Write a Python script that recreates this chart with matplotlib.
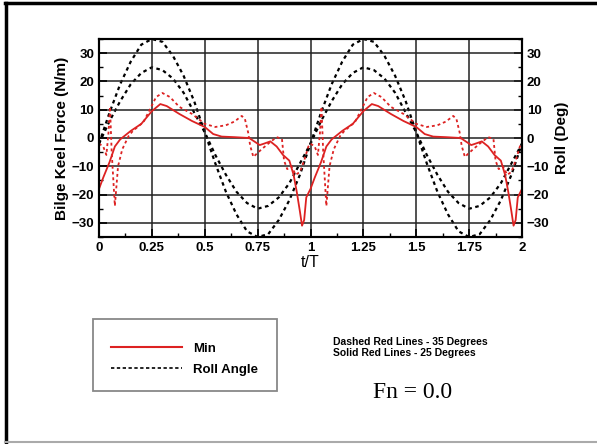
import numpy as np
import matplotlib
matplotlib.use("Agg")
import matplotlib.pyplot as plt
from matplotlib.lines import Line2D
from matplotlib.patches import Rectangle
from matplotlib.ticker import MultipleLocator

plt.rcParams['font.family'] = ['Liberation Sans', 'DejaVu Sans']

# bilge keel force, solid red (25 deg roll)
t_solid = [0, 0.02, 0.05, 0.075, 0.1, 0.12, 0.15, 0.2, 0.25, 0.29, 0.32, 0.38, 0.44,
           0.5, 0.54, 0.58, 0.64, 0.71, 0.76, 0.78, 0.81, 0.84, 0.87, 0.9, 0.92,
           0.935, 0.95, 0.96, 0.97, 0.98,
           1.0, 1.02, 1.05, 1.075, 1.1, 1.12, 1.15, 1.2, 1.25, 1.29, 1.32, 1.38, 1.44,
           1.5, 1.54, 1.58, 1.64, 1.71, 1.76, 1.78, 1.81, 1.84, 1.87, 1.9, 1.92,
           1.935, 1.95, 1.96, 1.97, 1.98, 2.0]
f_solid = [-18, -14, -8.5, -3, -0.5, 0.7, 2.5, 5, 9.5, 12, 11.3, 8.5, 6,
           3.9, 1.4, 0.5, 0.3, 0, -2.5, -2, -1.2, -3, -6, -8, -13,
           -19, -26, -31, -29, -21,
           -18, -14, -8.5, -3, -0.5, 0.7, 2.5, 5, 9.5, 12, 11.3, 8.5, 6,
           3.9, 1.4, 0.5, 0.3, 0, -2.5, -2, -1.2, -3, -6, -8, -13,
           -19, -26, -31, -29, -21, -18]

# bilge keel force, dashed red (35 deg roll)
t_dash = [0, 0.02, 0.035, 0.045, 0.052, 0.06, 0.075, 0.09, 0.11, 0.14, 0.16, 0.21,
          0.24, 0.27, 0.3, 0.335, 0.38, 0.44, 0.5, 0.55, 0.6, 0.64, 0.675, 0.69,
          0.705, 0.715, 0.73, 0.745, 0.77, 0.81, 0.84, 0.865, 0.875, 0.89, 0.91,
          0.93, 0.95, 0.97, 0.99,
          1.0, 1.02, 1.035, 1.045, 1.052, 1.06, 1.075, 1.09, 1.11, 1.14, 1.16, 1.21,
          1.24, 1.27, 1.3, 1.335, 1.38, 1.44, 1.5, 1.55, 1.6, 1.64, 1.675, 1.69,
          1.705, 1.715, 1.73, 1.745, 1.77, 1.81, 1.84, 1.865, 1.875, 1.89, 1.91,
          1.93, 1.95, 1.97, 1.99, 2.0]
f_dash = [-2, -3, -6, 2, 11, -5, -24, -10, -4, 0.7, 2.5, 5.6,
          10, 14.5, 15.9, 14.5, 11, 8.5, 5, 3.9, 4.5, 5.8, 7.8, 6.7,
          2, -2.8, -6.7, -5.6, -3.9, -1.4, 0.3, -0.3, -8, -11, -10,
          -13, -12, -8, -3,
          -2, -3, -6, 2, 11, -5, -24, -10, -4, 0.7, 2.5, 5.6,
          10, 14.5, 15.9, 14.5, 11, 8.5, 5, 3.9, 4.5, 5.8, 7.8, 6.7,
          2, -2.8, -6.7, -5.6, -3.9, -1.4, 0.3, -0.3, -8, -11, -10,
          -13, -12, -8, -3, -2]

# roll angle (deg)
t_roll = [0, 0.05, 0.1, 0.15, 0.2, 0.25, 0.3, 0.35, 0.4, 0.45, 0.5, 0.55, 0.6, 0.65,
          0.7, 0.75, 0.8, 0.85, 0.9, 0.95, 1.0, 1.05, 1.1, 1.15, 1.2, 1.25, 1.3,
          1.35, 1.4, 1.45, 1.5, 1.55, 1.6, 1.65, 1.7, 1.75, 1.8, 1.85, 1.9, 1.95, 2.0]
roll_35 = [-2, 9, 19, 27, 33, 35, 34, 29, 22, 13, 2, -9, -19, -27, -33, -35, -34, -29,
           -22, -13, -2, 9, 19, 27, 33, 35, 34, 29, 22, 13, 2, -9, -19, -27, -33, -35,
           -34, -29, -22, -13, -2]
roll_25 = [-2, 6, 13, 19, 23, 25, 24, 21, 16, 9, 2, -6, -13, -19, -23, -25, -24, -21,
           -16, -9, -2, 6, 13, 19, 23, 25, 24, 21, 16, 9, 2, -6, -13, -19, -23, -25,
           -24, -21, -16, -9, -2]

red = '#dd2222'
dots = (0, (1.6, 1.6))

fig = plt.figure(figsize=(5.97, 4.44), dpi=100)
ax = fig.add_axes([99 / 597, 1 - 237 / 444, 423 / 597, 198 / 444])
ax2 = ax.twinx()

ax2.plot(t_roll, roll_35, color='black', lw=1.6, ls=dots)
ax2.plot(t_roll, roll_25, color='black', lw=1.6, ls=dots)
ax.plot(t_dash, f_dash, color=red, lw=1.3, ls=dots)
ax.plot(t_solid, f_solid, color=red, lw=1.3)
ax.set_zorder(ax2.get_zorder() + 1)
ax.patch.set_visible(False)

for a in (ax, ax2):
    a.set_xlim(0, 2)
    a.set_ylim(-35, 35)
    a.yaxis.set_major_locator(MultipleLocator(10))
    a.yaxis.set_minor_locator(MultipleLocator(5))
    a.tick_params(which='major', direction='in', length=6, width=1.2, labelsize=9.5)
    a.tick_params(which='minor', direction='in', length=3, width=1)
    for lab in a.get_yticklabels():
        lab.set_fontweight('bold')
    for s in a.spines.values():
        s.set_linewidth(1.5)

ax.xaxis.set_major_locator(MultipleLocator(0.25))
ax.xaxis.set_minor_locator(MultipleLocator(0.125))
ax.set_xticks([0, 0.25, 0.5, 0.75, 1, 1.25, 1.5, 1.75, 2])
ax.set_xticklabels(['0', '0.25', '0.5', '0.75', '1', '1.25', '1.5', '1.75', '2'],
                   fontweight='bold')
ax.grid(True, which='major', color='#222222', lw=1.1)
ax.set_xlabel('t/T', fontsize=11.5, labelpad=1)
ax.set_ylabel('Bilge Keel Force (N/m)', fontsize=11, fontweight='bold', labelpad=2)
ax2.set_ylabel('Roll (Deg)', fontsize=11, fontweight='bold', labelpad=4)

# outer frame
fig.add_artist(Line2D([5 / 597, 1], [1 - 3 / 444, 1 - 3 / 444], color='black', lw=2.5))
fig.add_artist(Line2D([6 / 597, 6 / 597], [1 - 3 / 444, 1 - 442 / 444], color='black', lw=2.5))
fig.add_artist(Line2D([5 / 597, 1], [1 - 442 / 444, 1 - 442 / 444], color='#aaaaaa', lw=1.5))

# legend box
fig.add_artist(Rectangle((93 / 597, 1 - 391 / 444), 184 / 597, 72 / 444,
                         transform=fig.transFigure, fill=False, edgecolor='#888888', lw=1.3))
handles = [Line2D([], [], color=red, lw=1.5),
           Line2D([], [], color='black', lw=1.2, ls=(0, (2, 1.5)))]
fig.legend(handles, ['Min', 'Roll Angle'], loc='center left',
           bbox_to_anchor=(99 / 597, 1 - 359 / 444), frameon=False,
           handlelength=5.4, handletextpad=0.8, labelspacing=0.65,
           prop={'weight': 'bold', 'size': 9.5})

fig.text(333 / 597, 1 - 342 / 444, 'Dashed Red Lines - 35 Degrees', fontsize=7.5,
         fontweight='bold', va='center')
fig.text(333 / 597, 1 - 353 / 444, 'Solid Red Lines - 25 Degrees', fontsize=7.5,
         fontweight='bold', va='center')
fig.text(413 / 597, 1 - 392 / 444, 'Fn = 0.0', fontsize=17, family='Liberation Serif',
         ha='center', va='center')

fig.savefig('out.png', dpi=100)
